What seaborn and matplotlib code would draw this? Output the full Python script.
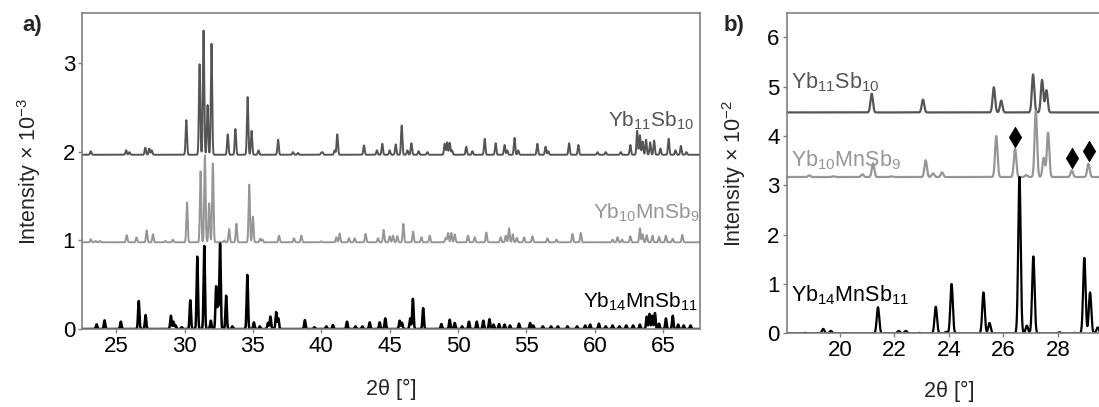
import numpy as np
import pandas as pd
import matplotlib
matplotlib.use("Agg")
import matplotlib.pyplot as plt
import seaborn as sns

# ---------------- data ----------------
# Panel a: peak positions (2theta, deg) and heights (x 10^-3), with baseline offsets
a_yb11_pos = [23.14, 25.73, 25.97, 27.13, 27.42, 27.6, 30.13, 31.1, 31.39, 31.68, 31.97, 33.16, 33.72,
              34.61, 34.9, 35.41, 36.84, 37.93, 38.3, 40.0, 40.1, 40.98, 41.17, 43.12, 44.07, 44.46,
              45.0, 45.44, 45.88, 46.3, 46.59, 47.12, 47.76, 49.02, 49.2, 49.39, 49.56, 50.6, 51.05,
              51.95, 52.75, 53.4, 53.6, 54.13, 54.4, 55.8, 56.4, 56.6, 58.12, 58.8, 60.2, 60.8, 61.9,
              62.6, 63.1, 63.3, 63.5, 63.75, 64.05, 64.34, 64.8, 65.4, 65.9, 66.3, 66.7]
a_yb11_h = [0.04, 0.05, 0.03, 0.08, 0.07, 0.05, 0.39, 1.02, 1.40, 0.56, 1.25, 0.23, 0.29,
            0.65, 0.27, 0.05, 0.17, 0.03, 0.02, 0.02, 0.026, 0.05, 0.23, 0.105, 0.05, 0.124,
            0.05, 0.117, 0.33, 0.05, 0.13, 0.04, 0.03, 0.124, 0.14, 0.135, 0.05, 0.09, 0.04,
            0.18, 0.13, 0.11, 0.05, 0.19, 0.05, 0.124, 0.09, 0.04, 0.13, 0.11, 0.03, 0.03, 0.03,
            0.11, 0.27, 0.22, 0.15, 0.17, 0.14, 0.16, 0.07, 0.18, 0.05, 0.10, 0.03]

a_yb10_pos = [23.14, 23.5, 23.8, 25.77, 26.48, 27.23, 27.69, 28.6, 29.14, 30.18, 31.17, 31.49, 31.8,
              32.07, 32.9, 33.26, 33.79, 34.73, 35.0, 35.53, 35.7, 36.91, 38.0, 38.54, 40.0, 41.1,
              41.34, 42.02, 42.44, 43.24, 44.15, 44.56, 45.0, 45.24, 45.56, 46.0, 46.71, 47.32,
              47.93, 49.1, 49.27, 49.51, 49.76, 50.73, 51.22, 52.07, 53.12, 53.49, 53.73, 54.0,
              54.3, 54.83, 55.44, 56.54, 57.2, 58.37, 58.98, 61.3, 61.66, 62.0, 62.6, 63.3, 63.5,
              63.8, 64.22, 64.7, 65.2, 65.7, 66.4]
a_yb10_h = [0.034, 0.015, 0.015, 0.08, 0.056, 0.135, 0.09, 0.015, 0.03, 0.45, 0.80, 0.98, 0.44,
            0.89, 0.02, 0.15, 0.21, 0.65, 0.29, 0.04, 0.03, 0.075, 0.045, 0.075, 0.01, 0.056,
            0.10, 0.045, 0.045, 0.094, 0.045, 0.14, 0.068, 0.075, 0.068, 0.207, 0.12, 0.056,
            0.075, 0.05, 0.105, 0.105, 0.09, 0.075, 0.056, 0.11, 0.056, 0.075, 0.158, 0.09,
            0.05, 0.056, 0.068, 0.045, 0.03, 0.094, 0.105, 0.03, 0.056, 0.03, 0.068, 0.158, 0.09,
            0.08, 0.075, 0.06, 0.075, 0.04, 0.083]

a_yb14_pos = [23.57, 24.15, 25.34, 26.65, 27.15, 29.0, 29.19, 29.35, 29.8, 30.42, 30.93, 31.44,
              31.92, 32.31, 32.45, 32.6, 33.04, 33.5, 34.59, 35.07, 35.5, 36.1, 36.28, 36.7, 36.86,
              38.8, 39.5, 40.37, 40.85, 41.88, 42.5, 43.0, 43.54, 44.27, 44.68, 45.73, 45.9, 46.5,
              46.7, 47.45, 48.78, 49.39, 49.76, 50.3, 50.8, 51.37, 51.85, 52.3, 52.6, 53.0, 53.4,
              53.8, 54.46, 55.27, 55.5, 56.2, 56.8, 57.3, 58.0, 58.7, 59.3, 59.66, 60.3, 60.8,
              61.3, 61.8, 62.3, 62.8, 63.3, 63.8, 64.0, 64.2, 64.4, 64.7, 65.2, 65.7, 66.1, 66.5, 67.0]
a_yb14_h = [0.053, 0.098, 0.083, 0.316, 0.158, 0.15, 0.083, 0.04, 0.02, 0.324, 0.816, 0.937,
            0.094, 0.478, 0.25, 0.96, 0.376, 0.03, 0.61, 0.075, 0.03, 0.07, 0.14, 0.19, 0.12,
            0.10, 0.02, 0.03, 0.045, 0.083, 0.03, 0.03, 0.075, 0.075, 0.12, 0.094, 0.07, 0.12,
            0.34, 0.235, 0.056, 0.105, 0.068, 0.03, 0.083, 0.083, 0.094, 0.11, 0.05, 0.056, 0.05,
            0.04, 0.06, 0.068, 0.04, 0.03, 0.03, 0.03, 0.03, 0.03, 0.04, 0.05, 0.06, 0.03,
            0.04, 0.03, 0.04, 0.04, 0.05, 0.14, 0.17, 0.15, 0.18, 0.06, 0.12, 0.15, 0.05, 0.04, 0.04]

a_offsets = [1.965, 0.978, 0.0]   # Yb11Sb10, Yb10MnSb9, Yb14MnSb11

# Panel b: peak positions and heights (x 10^-2)
b_yb11_pos = [21.17, 23.05, 25.65, 25.92, 27.09, 27.42, 27.58]
b_yb11_h = [0.38, 0.26, 0.51, 0.24, 0.77, 0.66, 0.45]
b_yb10_pos = [18.88, 19.76, 20.83, 21.22, 21.89, 23.15, 23.42, 23.75, 25.74, 26.43, 26.84,
              27.19, 27.48, 27.64, 28.51, 29.12]
b_yb10_h = [0.034, 0.014, 0.054, 0.28, 0.014, 0.34, 0.074, 0.095, 0.83, 0.576, 0.04,
            1.34, 0.39, 0.9, 0.135, 0.27]
b_yb14_pos = [18.72, 19.39, 19.67, 21.4, 22.16, 22.42, 22.9, 23.52, 23.9, 24.1, 25.27, 25.49,
              26.59, 26.86, 27.1, 28.06, 28.6, 28.97, 29.18, 29.46]
b_yb14_h = [0.01, 0.09, 0.05, 0.53, 0.05, 0.05, 0.01, 0.54, 0.03, 1.0, 0.83, 0.21,
            3.17, 0.155, 1.56, 0.02, 0.01, 1.53, 0.83, 0.12]
b_offsets = [4.48, 3.17, 0.0]

# impurity markers (diamonds) in panel b
b_marker_x = [26.43, 28.52, 29.13]
b_marker_y = [3.99, 3.55, 3.69]

names = ["Yb$_{11}$Sb$_{10}$", "Yb$_{10}$MnSb$_{9}$", "Yb$_{14}$MnSb$_{11}$"]
colors = ["#555555", "#969696", "#000000"]

a_xticks = [25, 30, 35, 40, 45, 50, 55, 60, 65]
a_yticks = [0, 1, 2, 3]
b_xticks = [20, 22, 24, 26, 28]
b_yticks = [0, 1, 2, 3, 4, 5, 6]


def profile(grid, pos, h, offset, sigma):
    p = np.asarray(pos)[:, None]
    hh = np.asarray(h)[:, None]
    return offset + (hh * np.exp(-0.5 * ((grid[None, :] - p) / sigma) ** 2)).sum(axis=0)


# ---------------- style ----------------
sns.set_style("ticks")
plt.rcParams["font.family"] = ["Liberation Sans", "DejaVu Sans"]
plt.rcParams["mathtext.fontset"] = "custom"
plt.rcParams["mathtext.rm"] = "Liberation Sans"
plt.rcParams["mathtext.it"] = "Liberation Sans:italic"
plt.rcParams["mathtext.bf"] = "Liberation Sans:bold"

fig = plt.figure(figsize=(10.99, 4.07), dpi=100)
axa = fig.add_axes([0.0746, 0.1916, 0.5624, 0.7757])
axb = fig.add_axes([0.7158, 0.1810, 0.2964, 0.7863])

# ---------------- panel a ----------------
grid_a = np.arange(22.5, 67.75, 0.01)
a_series = [(a_yb11_pos, a_yb11_h), (a_yb10_pos, a_yb10_h), (a_yb14_pos, a_yb14_h)]
for (pos, h), off, col, lw in zip(a_series, a_offsets, colors, [1.4, 1.4, 1.8]):
    df = pd.DataFrame({"x": grid_a, "y": profile(grid_a, pos, h, off, 0.05)})
    sns.lineplot(data=df, x="x", y="y", ax=axa, color=col, lw=lw)

axa.set_xlim(22.5, 67.7)
axa.set_ylim(0, 3.56)
axa.set_xticks(a_xticks)
axa.set_yticks(a_yticks)
axa.set_xlabel("2θ [°]", fontsize=15.5, labelpad=16)
axa.set_ylabel("Intensity × 10$^{-3}$", fontsize=15.5, labelpad=14)

a_label_pos = [(67.25, 2.35), (67.65, 1.31), (67.55, 0.31)]
for name, col, (tx, ty) in zip(names, colors, a_label_pos):
    axa.text(tx, ty, name, color=col, fontsize=15, ha="right", va="center")

# ---------------- panel b ----------------
grid_b = np.arange(18.0, 30.0, 0.005)
b_series = [(b_yb11_pos, b_yb11_h), (b_yb10_pos, b_yb10_h), (b_yb14_pos, b_yb14_h)]
for (pos, h), off, col in zip(b_series, b_offsets, colors):
    df = pd.DataFrame({"x": grid_b, "y": profile(grid_b, pos, h, off, 0.045)})
    sns.lineplot(data=df, x="x", y="y", ax=axb, color=col, lw=1.6)

sns.scatterplot(x=b_marker_x, y=b_marker_y, ax=axb, marker="d", s=110, color="black",
                edgecolor="black", linewidth=0.5, zorder=5)

axb.set_xlim(18.05, 30.0)
axb.set_ylim(0, 6.49)
axb.set_xticks(b_xticks)
axb.set_yticks(b_yticks)
axb.set_xlabel("2θ [°]", fontsize=15.5, labelpad=14)
axb.set_ylabel("Intensity × 10$^{-2}$", fontsize=15.5, labelpad=14)

b_label_pos = [(18.2, 5.10), (18.2, 3.51), (18.2, 0.77)]
for name, col, (tx, ty) in zip(names, colors, b_label_pos):
    axb.text(tx, ty, name, color=col, fontsize=15.5, ha="left", va="center")

for ax in (axa, axb):
    for sp in ax.spines.values():
        sp.set_color("#808080")
        sp.set_linewidth(1.2)
    ax.tick_params(axis="both", labelsize=16, length=3, width=1, color="#808080",
                   pad=2, labelcolor="black")

fig.text(0.020, 0.925, "a)", fontsize=16, fontweight="bold")
fig.text(0.658, 0.925, "b)", fontsize=16, fontweight="bold")

fig.savefig("out.png", dpi=100)
